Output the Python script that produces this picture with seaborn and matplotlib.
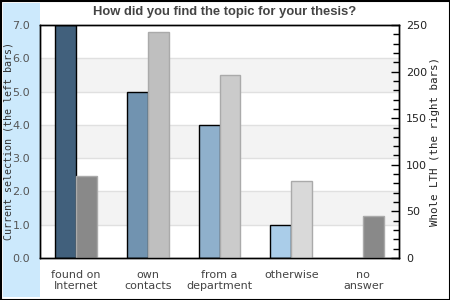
import matplotlib
matplotlib.use("Agg")
import matplotlib.pyplot as plt
from matplotlib.patches import Rectangle
import seaborn as sns
import pandas as pd

categories = ["found on\nInternet", "own\ncontacts", "from a\ndepartment", "otherwise", "no\nanswer"]
current_selection = [7, 5, 4, 1, 0]
whole_lth = [88, 243, 196, 83, 45]
left_colors = ["#41607c", "#7193b0", "#8fb0cc", "#aacde9", "#aacde9"]
right_colors = ["#898989", "#bfbfbf", "#cbcbcb", "#d9d9d9", "#898989"]
left_ticks = [0, 1, 2, 3, 4, 5, 6, 7]
right_ticks = [0, 50, 100, 150, 200, 250]

sns.set_theme(style="white")
plt.rcParams["font.family"] = ["DejaVu Sans"]

df = pd.DataFrame({
    "category": categories * 2,
    "series": ["current"] * 5 + ["whole"] * 5,
    "value": current_selection + whole_lth,
})

fig = plt.figure(figsize=(4.5, 3), dpi=100)
fig.patch.set_facecolor("white")
fig.patches.append(Rectangle((3/450, 3/300), 37/450, 294/300, transform=fig.transFigure,
                             facecolor="#cce9fc", edgecolor="none", zorder=-5))
fig.patches.append(Rectangle((0.5/450, 0.5/300), 449/450, 299/300, transform=fig.transFigure,
                             facecolor="none", edgecolor="black", linewidth=1.5, zorder=10))

ax1 = fig.add_axes([40/450, 1 - 258/300, 359/450, 233/300])
ax1.set_facecolor("white")
for lo in [1, 3, 5]:
    ax1.axhspan(lo, lo + 1, color="#f3f3f3", zorder=0, linewidth=0)
for v in range(1, 7):
    ax1.axhline(v, color="#e0e0e0", linewidth=1, zorder=0.5)

hue_order = ["current", "whole"]
sns.barplot(data=df[df.series == "current"], x="category", y="value", hue="series",
            hue_order=hue_order, order=categories, dodge=True, width=0.58, gap=0,
            ax=ax1, legend=False, edgecolor="black", linewidth=1, zorder=2)
ax2 = ax1.twinx()
sns.barplot(data=df[df.series == "whole"], x="category", y="value", hue="series",
            hue_order=hue_order, order=categories, dodge=True, width=0.58, gap=0,
            ax=ax2, legend=False, edgecolor="#aaaaaa", linewidth=1, zorder=2)

bars1 = [p for p in ax1.patches if isinstance(p, Rectangle)][-5:]
for p, c, v in zip(bars1, left_colors, current_selection):
    p.set_facecolor(c)
    if v == 0:
        p.set_linewidth(0)
bars2 = [p for p in ax2.patches if isinstance(p, Rectangle)]
for p, c in zip(bars2, right_colors):
    p.set_facecolor(c)

ax1.set_ylim(0, 7)
ax2.set_ylim(0, 250)
ax1.set_xlim(-0.5, 4.5)
ax1.set_yticks(left_ticks)
ax1.set_yticklabels([f"{v:.1f}" for v in left_ticks])
ax2.set_yticks(right_ticks)
ax2.set_yticks(range(0, 251, 10), minor=True)

ax1.tick_params(axis="y", which="both", left=False, right=False, length=0, pad=7,
                labelsize=8, labelcolor="#555555")
ax1.tick_params(axis="x", length=0, pad=8.5, labelsize=8, labelcolor="#444444")
ax2.tick_params(axis="y", which="both", left=False, right=True)
ax2.tick_params(axis="y", which="major", direction="in", length=6, width=1, color="black",
                pad=5, labelsize=8, labelcolor="#222222")
ax2.tick_params(axis="y", which="minor", direction="in", length=4, width=1, color="black")

ax1.set_xlabel("")
ax1.set_ylabel("Current selection (the left bars)", family="DejaVu Sans Mono", fontsize=7.2,
               color="#333333", va="center", ha="center")
ax2.set_ylabel("Whole LTH (the right bars)", family="DejaVu Sans Mono", fontsize=7.8,
               color="#222222", va="center", ha="center")
ax1.yaxis.set_label_coords(-31/359, 0.5)
ax2.yaxis.set_label_coords(1 + 36/359, 0.5)

for ax in (ax1, ax2):
    for s in ax.spines.values():
        s.set_color("black")
        s.set_linewidth(1)
        s.set_visible(True)

fig.text(0.5, 1 - 12/300, "How did you find the topic for your thesis?", ha="center", va="center",
         family="Liberation Sans", fontweight="bold", fontsize=9.4, color="#444444")

fig.savefig("out.png", dpi=100)
